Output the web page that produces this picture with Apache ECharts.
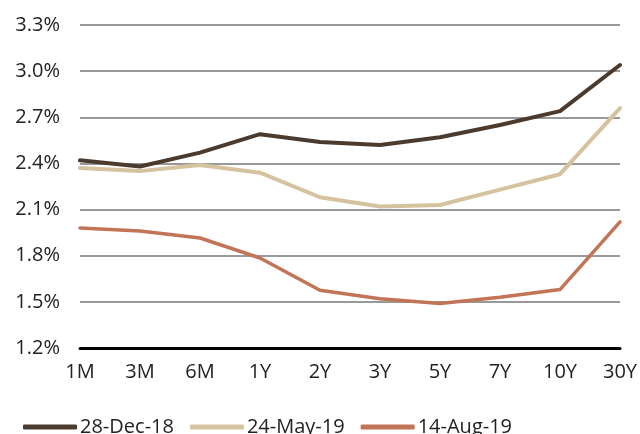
<!DOCTYPE html>
<html lang="en">
<head>
    <meta charset="UTF-8">
    <title>Yield curves</title>
    <script src="https://cdn.jsdelivr.net/npm/echarts@6.0.0/dist/echarts.min.js"></script>
    <style>
        html, body { margin: 0; padding: 0; background: #fff; }
        #chart { width: 640px; height: 434px; }
    </style>
</head>
<body>
    <div id="chart"></div>
    <script>
    // maturities and yields (%)
    const maturities = ['1M', '3M', '6M', '1Y', '2Y', '3Y', '5Y', '7Y', '10Y', '30Y'];
    const dec18 = [2.42, 2.38, 2.47, 2.59, 2.54, 2.52, 2.57, 2.65, 2.74, 3.04];
    const may19 = [2.37, 2.35, 2.39, 2.34, 2.18, 2.12, 2.13, 2.23, 2.33, 2.76];
    const aug19 = [1.98, 1.96, 1.915, 1.785, 1.575, 1.52, 1.49, 1.53, 1.58, 2.02];
    const seriesNames = ['28-Dec-18', '24-May-19', '14-Aug-19'];
    const colors = ['#4b3a2e', '#d5c29f', '#c27457'];

    const font = '"Open Sans", "Noto Sans", sans-serif';
    const chart = echarts.init(document.getElementById('chart'));

    function line(name, data, color, width) {
        return {
            name: name, type: 'line', data: data,
            showSymbol: false, symbol: 'none',
            lineStyle: { color: color, width: width, cap: 'round', join: 'round' },
            itemStyle: { color: color }
        };
    }

    chart.setOption({
        animation: false,
        grid: { left: 80, right: 20, top: 25, bottom: 86 },
        legend: {
            left: 18, top: 412,
            icon: 'roundRect', itemWidth: 54, itemHeight: 5, itemGap: 16,
            textStyle: { fontFamily: font, fontSize: 20, color: '#222', padding: [0, 0, 0, -2] },
            data: seriesNames
        },
        xAxis: {
            type: 'category', data: maturities, boundaryGap: false,
            axisLine: { lineStyle: { color: '#000', width: 3 } },
            axisTick: { show: false },
            axisLabel: { fontFamily: font, fontSize: 20, color: '#222', margin: 14 }
        },
        yAxis: {
            type: 'value', min: 1.2, max: 3.3, interval: 0.3,
            axisLine: { show: false }, axisTick: { show: false },
            splitLine: { lineStyle: { color: '#777', width: 1.5 } },
            axisLabel: {
                fontFamily: font, fontSize: 20, color: '#222', margin: 20,
                formatter: v => v.toFixed(1) + '%'
            }
        },
        series: [
            line(seriesNames[0], dec18, colors[0], 4),
            line(seriesNames[1], may19, colors[1], 4),
            line(seriesNames[2], aug19, colors[2], 3.5)
        ]
    });
    </script>
</body>
</html>
